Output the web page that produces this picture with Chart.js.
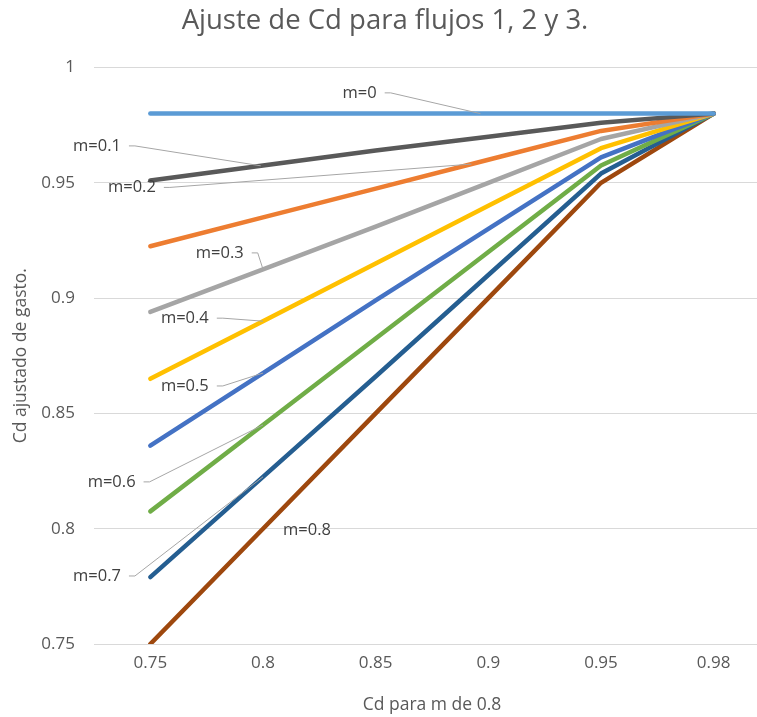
<!DOCTYPE html>
<html>
<head>
<meta charset="utf-8">
<script src="https://cdn.jsdelivr.net/npm/chart.js@4.4.1/dist/chart.umd.min.js"></script>
<style>
  html, body { margin: 0; padding: 0; background: #fff; overflow: hidden; }
  canvas { display: block; }
</style>
</head>
<body>
<canvas id="cdChart" width="770" height="717"></canvas>
<script>
// Ajuste de Cd para flujos 1, 2 y 3.
const categories = ['0.75', '0.8', '0.85', '0.9', '0.95', '0.98'];
const yTicks = [0.75, 0.8, 0.85, 0.9, 0.95, 1];

const m0  = [0.98,   0.98,   0.98,   0.98, 0.98,   0.98];
const m01 = [0.951,  0.9575, 0.964,  0.97, 0.976,  0.98];
const m02 = [0.9225, 0.935,  0.9475, 0.96, 0.9725, 0.98];
const m03 = [0.894,  0.9125, 0.931,  0.95, 0.969,  0.98];
const m04 = [0.865,  0.89,   0.915,  0.94, 0.965,  0.98];
const m05 = [0.836,  0.8675, 0.899,  0.93, 0.961,  0.98];
const m06 = [0.8075, 0.845,  0.8825, 0.92, 0.9575, 0.98];
const m07 = [0.779,  0.8225, 0.866,  0.91, 0.954,  0.98];
const m08 = [0.75,   0.8,    0.85,   0.9,  0.95,   0.98];

const seriesNames = ['m=0', 'm=0.1', 'm=0.2', 'm=0.3', 'm=0.4', 'm=0.5', 'm=0.6', 'm=0.7', 'm=0.8'];
const seriesData = [m0, m01, m02, m03, m04, m05, m06, m07, m08];
const colors = ['#5B9BD5', '#595959', '#ED7D31', '#A5A5A5', '#FFC000', '#4472C4', '#70AD47', '#255E91', '#9E480E'];

// label anchors in data units: x = category index, y = value, leader ends on the series at index `to`
const labelX  = [2.08, -0.19, 0.12, 0.90, 0.59, 0.59, -0.06, -0.19, 1.39];
const labelY  = [0.989, 0.966, 0.948, 0.9196, 0.8913, 0.8619, 0.8203, 0.7795, 0.7994];
const leaderTo = [2.93, 0.98, 2.85, 1.0, 1.0, 1.0, 1.0, 1.0, null];

const FONT = "'Open Sans', 'DejaVu Sans', sans-serif";

function valueAt(data, idx) {
    const i = Math.min(Math.floor(idx), data.length - 2);
    const t = idx - i;
    return data[i] + (data[i + 1] - data[i]) * t;
}

const seriesLabels = {
    id: 'seriesLabels',
    afterDatasetsDraw(chart) {
        const { ctx, scales: { x, y } } = chart;
        ctx.save();
        ctx.font = "16.5px " + FONT;
        ctx.textBaseline = 'middle';
        seriesNames.forEach((name, i) => {
            const px = x.getPixelForValue(labelX[i]);
            const py = y.getPixelForValue(labelY[i]);
            ctx.fillStyle = '#404040';
            if (leaderTo[i] === null) {
                ctx.textAlign = 'center';
                ctx.fillText(name, px, py);
                return;
            }
            ctx.textAlign = 'right';
            ctx.fillText(name, px - 8, py);
            const tx = x.getPixelForValue(leaderTo[i]);
            const ty = y.getPixelForValue(valueAt(seriesData[i], leaderTo[i]));
            ctx.strokeStyle = '#A6A6A6';
            ctx.lineWidth = 1;
            ctx.beginPath();
            ctx.moveTo(px, py);
            ctx.lineTo(px + 6, py);
            ctx.lineTo(tx, ty);
            ctx.stroke();
        });
        ctx.restore();
    }
};

new Chart(document.getElementById('cdChart').getContext('2d'), {
    type: 'line',
    data: {
        labels: categories,
        datasets: seriesNames.map((name, i) => ({
            label: name,
            data: seriesData[i],
            borderColor: colors[i],
            backgroundColor: colors[i],
            borderWidth: 4.5,
            borderCapStyle: 'round',
            borderJoinStyle: 'round',
            pointRadius: 0,
            tension: 0,
            fill: false
        }))
    },
    options: {
        responsive: false,
        animation: false,
        layout: { padding: 0 },
        plugins: {
            legend: { display: false },
            tooltip: { enabled: false },
            title: {
                display: true,
                text: 'Ajuste de Cd para flujos 1, 2 y 3.',
                color: '#595959',
                font: { family: FONT, size: 27.5, weight: 'normal' },
                padding: { top: 5, bottom: 29.5 }
            }
        },
        scales: {
            x: {
                type: 'category',
                offset: true,
                grid: { display: false, drawTicks: false },
                border: { display: false },
                ticks: { color: '#595959', font: { family: FONT, size: 17 }, padding: 9, maxRotation: 0 },
                title: {
                    display: true,
                    text: 'Cd para m de 0.8',
                    color: '#595959',
                    font: { family: FONT, size: 17.5 },
                    padding: { top: 4, bottom: 1.5 }
                },
                afterFit(scale) { scale.height = 73; }
            },
            y: {
                min: 0.75,
                max: 1,
                afterBuildTicks(scale) { scale.ticks = yTicks.map(v => ({ value: v })); },
                grid: { color: '#D9D9D9', lineWidth: 1, drawTicks: false },
                border: { display: false },
                ticks: {
                    color: '#595959',
                    font: { family: FONT, size: 17 },
                    padding: 19,
                    callback: v => String(Number(v.toFixed(2)))
                },
                title: {
                    display: true,
                    text: 'Cd ajustado de gasto.',
                    color: '#595959',
                    font: { family: FONT, size: 17.5 },
                    padding: { top: 10.5, bottom: 0 }
                },
                afterFit(scale) { scale.width = 94; }
            }
        }
    },
    plugins: [seriesLabels]
});
</script>
</body>
</html>
